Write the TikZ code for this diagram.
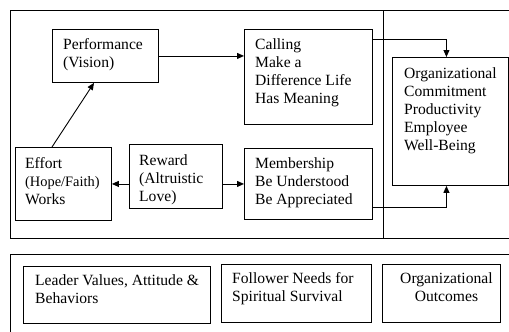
\documentclass[tikz,border=0pt]{standalone}
\usepackage{fontspec}
\setmainfont{Liberation Serif}
\usetikzlibrary{arrows.meta,calc}
\tikzset{
 box/.style={draw, line width=0.9pt, anchor=north west, inner sep=0pt},
 txt/.style={anchor=north west, align=left, inner sep=0pt, font=\fontsize{15.6}{18.2}\selectfont},
 ctxt/.style={anchor=north, align=center, inner sep=0pt, font=\fontsize{15.6}{18.2}\selectfont},
 arr/.style={line width=0.9pt, -{Triangle[length=7pt,width=6pt]}},
 frame/.style={line width=0.9pt}
}
\begin{document}
\begin{tikzpicture}[x=1pt,y=-1pt]
\useasboundingbox (0,0) rectangle (509,332);
\clip (0,0) rectangle (509,332);
% frames
\draw[frame] (520,10) -- (10,10) -- (10,238) -- (520,238);
\draw[frame] (383,10) -- (383,238);
\draw[frame] (520,254) -- (10,254) -- (10,340);
% boxes
\node[box, minimum width=106pt, minimum height=53pt] (perf) at (52,29) {};
\node[txt] (perf-t) at ([shift={(11pt,-9pt)}]perf.north west) {Performance\\(Vision)};
\node[box, minimum width=128pt, minimum height=95pt] (call) at (244,29) {};
\node[txt] (call-t) at ([shift={(11pt,-9pt)}]call.north west) {Calling\\Make a\\Difference Life\\Has Meaning};
\node[box, minimum width=96pt, minimum height=73pt] (effort) at (15,147) {};
\node[txt] (effort-t) at ([shift={(10pt,-10pt)}]effort.north west) {Effort\\{\fontsize{14.4}{18}\selectfont (Hope/Faith)}\\Works};
\node[box, minimum width=93pt, minimum height=64pt] (reward) at (129,144) {};
\node[txt] (reward-t) at ([shift={(10pt,-10pt)}]reward.north west) {Reward\\(Altruistic\\Love)};
\node[box, minimum width=128pt, minimum height=71pt] (memb) at (244,148) {};
\node[txt] (memb-t) at ([shift={(11pt,-9pt)}]memb.north west) {Membership\\Be Understood\\Be Appreciated};
\node[box, minimum width=116pt, minimum height=128pt] (org) at (392,57) {};
\node[txt] (org-t) at ([shift={(12pt,-10pt)}]org.north west) {Organizational\\Commitment\\Productivity\\Employee\\Well-Being};
% legend boxes
\node[box, minimum width=187pt, minimum height=57pt] (leader) at (23,266) {};
\node[txt] (leader-t) at ([shift={(12pt,-8pt)}]leader.north west) {Leader Values, Attitude \&\\Behaviors};
\node[box, minimum width=150pt, minimum height=58pt] (follower) at (221,264) {};
\node[txt] (follower-t) at ([shift={(11pt,-8pt)}]follower.north west) {Follower Needs for\\Spiritual Survival};
\node[box, minimum width=118pt, minimum height=58pt] (outc) at (382,264) {};
\node[ctxt] (outc-t) at ([shift={(5pt,-8pt)}]outc.north) {Organizational\\Outcomes};
% arrows
\draw[arr] (perf.east) -- (perf.east -| call.west);
\draw[arr] ([xshift=37pt]effort.north west) -- ([xshift=42pt]perf.south west);
\draw[arr] (reward.west |- effort.east) -- (effort.east);
\draw[arr] (reward.east |- memb.west) -- (memb.west);
\draw[arr] ([yshift=-10pt]call.north east) -| ([xshift=-4pt]org.north);
\draw[arr] ([yshift=12pt]memb.south east) -| ([xshift=-4pt]org.south);
\end{tikzpicture}
\end{document}
